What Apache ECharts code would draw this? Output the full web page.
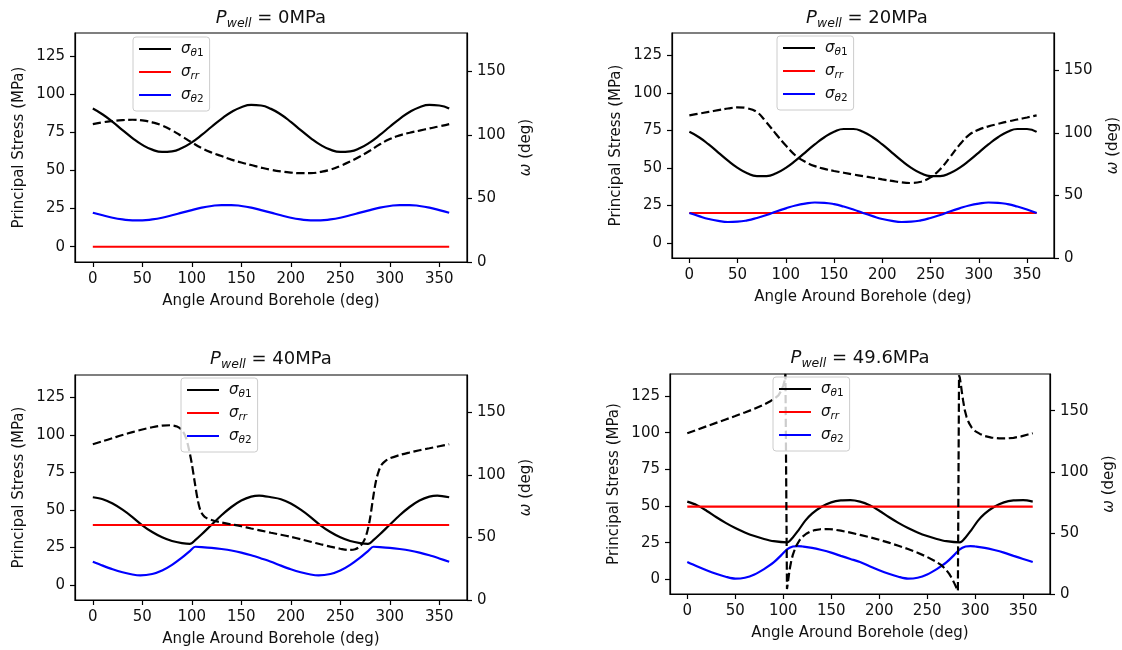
<!DOCTYPE html>
<html>
<head>
<meta charset="utf-8">
<script src="https://cdn.jsdelivr.net/npm/echarts@6/dist/echarts.min.js"></script>
<style>
html,body{margin:0;padding:0;background:#fff;}
#chart{width:1122px;height:650px;}
</style>
</head>
<body>
<div id="chart"></div>
<script>
// angle around borehole (deg), 10 deg steps for the two upper panels
var angles = [0,10,20,30,40,50,60,70,80,90,100,110,120,130,140,150,160,170,180,
              190,200,210,220,230,240,250,260,270,280,290,300,310,320,330,340,350,360];
var pressures = [0, 20, 40, 49.6];

// P_well = 0 MPa
var p1Theta1 = [90.5,86.6,81.8,76.4,71.2,66.7,63.6,62.1,62.5,64.7,68.4,73.2,78.6,83.8,88.3,91.4,92.9,92.5,90.3,
                86.6,81.8,76.4,71.2,66.7,63.6,62.1,62.5,64.7,68.4,73.2,78.6,83.8,88.3,91.4,92.9,92.5,90.5];
var p1Theta2 = [22.3,20.6,19.0,17.9,17.3,17.3,17.9,19.0,20.6,22.3,24.0,25.6,26.7,27.3,27.3,26.7,25.6,24.0,22.3,
                20.6,19.0,17.9,17.3,17.3,17.9,19.0,20.6,22.3,24.0,25.6,26.7,27.3,27.3,26.7,25.6,24.0,22.3];
var p1Omega = [108.4,109.8,110.8,111.5,111.8,111.3,109.8,107.3,103.5,98.8,94,89.5,86,83.3,80.5,78.2,76.2,74.2,72.5,
               71.2,70.3,69.8,69.8,70.8,72.6,75.5,79,83,87.5,92.5,96.6,99.5,101.6,103.3,105,106.6,108.4];

// P_well = 20 MPa
var p2Theta1 = [74.1,70.5,65.7,60.3,54.9,50.1,46.5,44.6,44.6,46.5,50.1,54.9,60.3,65.7,70.5,74.1,76,76,74.1,
                70.5,65.7,60.3,54.9,50.1,46.5,44.6,44.6,46.5,50.1,54.9,60.3,65.7,70.5,74.1,76,76,74.1];
var p2Theta2 = [20.0,17.9,16.0,14.7,14.0,14.2,15.1,16.7,18.7,21.0,23.1,25.0,26.3,27.0,26.8,25.9,24.3,22.3,20.0,
                17.9,16.0,14.7,14.0,14.2,15.1,16.7,18.7,21.0,23.1,25.0,26.3,27.0,26.8,25.9,24.3,22.3,20.0];
var p2Omega = [114.1,115.5,116.9,118.3,119.6,120.5,119.8,116.8,108.5,99,90,82,77,73.5,71.3,69.6,68.2,66.8,65.5,
               64.2,62.9,61.7,60.5,60,61,64.5,71,80.5,90.5,98.5,102.7,105.3,107.3,109.2,110.8,112.4,114.1];

// P_well = 40 MPa  [angle, value]
var p3Theta1 = [[0,58.5],[10,57.2],[20,54.3],[30,50.2],[40,45.3],[50,39.8],[60,35.3],[70,31.8],[80,29.3],[90,27.9],
                [98,27.4],[104,30.2],[110,33.8],[120,40.2],[130,46.5],[140,52],[150,56.3],[160,58.9],[168,59.6],[180,58.5],
                [190,57.2],[200,54.3],[210,50.2],[220,45.3],[230,39.8],[240,35.3],[250,31.8],[260,29.3],[270,27.9],
                [278,27.4],[284,30.2],[290,33.8],[300,40.2],[310,46.5],[320,52],[330,56.3],[340,58.9],[348,59.6],[360,58.5]];
var p3Theta2 = [[0,15.5],[10,12.9],[20,10.5],[30,8.5],[40,7],[48,6.4],[60,7.3],[70,9.6],[80,13.4],[90,18.2],[98,22.6],
                [103.5,25.5],[110,25.3],[120,24.8],[130,24],[140,23],[150,21.6],[160,19.8],[170,17.7],[180,15.5],
                [190,12.9],[200,10.5],[210,8.5],[220,7],[228,6.4],[240,7.3],[250,9.6],[260,13.4],[270,18.2],[278,22.6],
                [283.5,25.5],[290,25.3],[300,24.8],[310,24],[320,23],[330,21.6],[340,19.8],[350,17.7],[360,15.5]];
var p3Omega = [[0,124.6],[10,127],[20,129.5],[30,132],[40,134.3],[50,136.4],[60,138.2],[70,139.5],[78,139.8],[85,138.8],
               [90,136],[94,130],[97,121],[100,109],[103,94],[106,80],[109,71],[113,66.5],[120,64],[130,62],[140,60.5],
               [150,59],[160,57.2],[170,55.5],[180,53.8],[190,52.2],[200,50.5],[210,48.6],[220,46.6],[230,44.6],[240,42.7],
               [250,41],[258,40],[265,40.6],[270,43],[274,47.5],[277,54],[280,65],[283,81],[286,95],[289,103.5],[292,108.5],
               [296,111.5],[300,113.3],[310,116],[320,118],[330,119.8],[340,121.4],[350,123],[360,124.6]];

// P_well = 49.6 MPa  [angle, value]
var p4Theta1 = [[0,53],[10,50.6],[20,46.8],[30,42.5],[40,38.5],[50,35],[60,32],[70,29.5],[80,27.5],[90,26],[104,25.2],
                [110,28.6],[116,33.6],[123,40],[130,44.8],[140,49.5],[150,52.5],[160,53.8],[170,54],[180,53],
                [190,50.6],[200,46.8],[210,42.5],[220,38.5],[230,35],[240,32],[250,29.5],[260,27.5],[270,26],[284,25.2],
                [290,28.6],[296,33.6],[303,40],[310,44.8],[320,49.5],[330,52.5],[340,53.8],[350,54],[360,53]];
var p4Theta2 = [[0,11.8],[10,8.9],[20,6.2],[30,3.8],[40,1.8],[50,0.5],[60,1.1],[70,3.3],[80,7],[90,11.5],[98,16.5],
                [104,20.5],[110,22.4],[115,22.7],[120,22.4],[130,21.5],[140,20],[150,18.2],[160,16],[170,13.9],[180,11.8],
                [190,8.9],[200,6.2],[210,3.8],[220,1.8],[230,0.5],[240,1.1],[250,3.3],[260,7],[270,11.5],[278,16.5],
                [284,20.5],[290,22.4],[295,22.7],[300,22.4],[310,21.5],[320,20],[330,18.2],[340,16],[350,13.9],[360,11.8]];
var p4Omega = [[0,131.5],[10,134.3],[20,137.2],[30,140],[40,142.8],[50,145.6],[60,148.5],[70,151.5],[80,155],[86,157.5],
               [91,160],[95,162.5],[98,166.5],[100,170.5],[101.3,174],[102.3,180],[103.9,4],[104.8,9],[105.8,15],[107,21.5],
               [108.5,27.5],[110,32],[112,36.5],[114,40],[117,44],[120,46.8],[124,49.3],[128,51],[133,52.3],[139,53],
               [145,53.2],[152,52.8],[160,51.8],[170,50.2],[180,48.4],[190,46.5],[200,44.4],[210,42],[220,39.5],[230,36.8],
               [240,33.8],[250,30.3],[258,27],[264,24],[269,20.5],[273,16.5],[276,12.5],[278.5,8.5],[280.5,5],[282,2.5],
               [282.8,1],[283.2,179],[284,177],[285,172],[286.2,165],[287.5,158],[289,151],[291,145],[293.5,140],[296.5,136],
               [300,133.3],[305,131],[310,129.3],[317,128],[325,127.3],[333,127.3],[340,127.8],[348,129],[355,130.5],[360,131.5]];

var xTicks = [0,50,100,150,200,250,300,350];
var stressTicks = [0,25,50,75,100,125];
var omegaTicks = [0,50,100,150];
var legendNames = ['σθ1','σrr','σθ2'];

function zip(xs, ys) {
    return xs.map(function (x, i) { return [x, ys[i]]; });
}

var panels = [
    {theta1: zip(angles, p1Theta1), theta2: zip(angles, p1Theta2), omega: zip(angles, p1Omega), sm: 0.5, smw: 0.5},
    {theta1: zip(angles, p2Theta1), theta2: zip(angles, p2Theta2), omega: zip(angles, p2Omega), sm: 0.5, smw: 0.4},
    {theta1: p3Theta1, theta2: p3Theta2, omega: p3Omega, sm: 0.3, smw: 0.3},
    {theta1: p4Theta1, theta2: p4Theta2, omega: p4Omega, sm: 0.3, smw: false}
];

// layout of the four axes boxes (px)
var boxes = [
    {left: 75, top: 33, width: 392, height: 229},
    {left: 672, top: 33, width: 390, height: 225},
    {left: 75, top: 375, width: 392, height: 225},
    {left: 670, top: 374, width: 380, height: 220}
];
var titleTops = [6, 6, 347, 346];
var legendPos = [[133, 37], [777, 36], [181, 378], [773, 377]];

var FONT = 'DejaVu Sans';
var TXT = '#111';

var legendText = {
    'σθ1': '{it|σ}{subi|θ}{sub|1}',
    'σrr': '{it|σ}{subi|rr}',
    'σθ2': '{it|σ}{subi|θ}{sub|2}'
};

var option = {
    animation: false,
    backgroundColor: '#fff',
    title: [], legend: [], grid: [], xAxis: [], yAxis: [], series: []
};

for (var i = 0; i < 4; i++) {
    var b = boxes[i];
    var p = panels[i];
    option.grid.push({
        left: b.left, top: b.top, width: b.width, height: b.height,
        show: true, borderColor: '#000', borderWidth: 1.2, containLabel: false
    });
    option.title.push({
        text: '{i|P}{s|well}{n| = ' + pressures[i] + 'MPa}',
        left: b.left + b.width / 2, top: titleTops[i], textAlign: 'center', padding: 0,
        textStyle: {
            fontWeight: 'normal',
            rich: {
                i: {fontFamily: FONT, fontStyle: 'italic', fontWeight: 'normal', fontSize: 18, lineHeight: 24, color: TXT},
                s: {fontFamily: FONT, fontStyle: 'italic', fontWeight: 'normal', fontSize: 12.5, lineHeight: 14, verticalAlign: 'bottom', color: TXT},
                n: {fontFamily: FONT, fontWeight: 'normal', fontSize: 18, lineHeight: 24, color: TXT}
            }
        }
    });
    option.legend.push({
        data: legendNames, orient: 'vertical', left: legendPos[i][0], top: legendPos[i][1],
        padding: [4, 6, 6, 5], itemGap: 5, itemWidth: 32, itemHeight: 20,
        backgroundColor: 'rgba(255,255,255,0.8)', borderColor: '#cccccc', borderWidth: 1, borderRadius: 3,
        selectedMode: false,
        itemStyle: {opacity: 0},
        formatter: function (n) { return legendText[n]; },
        textStyle: {
            rich: {
                it: {fontFamily: FONT, fontStyle: 'italic', fontSize: 15, lineHeight: 20, color: TXT, padding: [0, 0, 0, 5]},
                subi: {fontFamily: FONT, fontStyle: 'italic', fontSize: 10.5, lineHeight: 12, verticalAlign: 'bottom', color: TXT},
                sub: {fontFamily: FONT, fontSize: 10.5, lineHeight: 12, verticalAlign: 'bottom', color: TXT}
            }
        }
    });
    option.xAxis.push({
        type: 'value', gridIndex: i, min: -18, max: 378,
        name: 'Angle Around Borehole (deg)', nameLocation: 'middle', nameGap: 32,
        nameTextStyle: {fontFamily: FONT, fontSize: 15, color: TXT},
        axisLine: {show: true, onZero: false, lineStyle: {color: '#000', width: 1.2}},
        axisTick: {show: true, length: 5, customValues: xTicks, lineStyle: {color: '#000', width: 1.2}},
        axisLabel: {customValues: xTicks, margin: 10, fontFamily: FONT, fontSize: 15, color: TXT},
        splitLine: {show: false}
    });
    option.yAxis.push({
        type: 'value', gridIndex: i, position: 'left', min: -10, max: 140,
        name: 'Principal Stress (MPa)', nameLocation: 'middle', nameGap: 48, nameRotate: 90,
        nameTextStyle: {fontFamily: FONT, fontSize: 15, color: TXT},
        axisLine: {show: true, onZero: false, lineStyle: {color: '#000', width: 1.2}},
        axisTick: {show: true, length: 5, customValues: stressTicks, lineStyle: {color: '#000', width: 1.2}},
        axisLabel: {customValues: stressTicks, margin: 10, fontFamily: FONT, fontSize: 15, color: TXT},
        splitLine: {show: false}
    });
    option.yAxis.push({
        type: 'value', gridIndex: i, position: 'right', min: 0, max: 180,
        name: '{w|ω} (deg)', nameLocation: 'middle', nameGap: 52, nameRotate: 90,
        nameTextStyle: {fontFamily: FONT, fontSize: 15, color: TXT,
            rich: {w: {fontFamily: FONT, fontStyle: 'italic', fontSize: 15, color: TXT}}},
        axisLine: {show: true, onZero: false, lineStyle: {color: '#000', width: 1.2}},
        axisTick: {show: true, length: 5, customValues: omegaTicks, lineStyle: {color: '#000', width: 1.2}},
        axisLabel: {customValues: omegaTicks, margin: 10, fontFamily: FONT, fontSize: 15, color: TXT},
        splitLine: {show: false}
    });

    var common = {type: 'line', xAxisIndex: i, symbol: 'none', emphasis: {disabled: true}};
    option.series.push(Object.assign({}, common, {
        name: 'σθ1', yAxisIndex: 2 * i, data: p.theta1, smooth: p.sm,
        lineStyle: {color: '#000000', width: 2.2}, itemStyle: {color: '#000000'}
    }));
    option.series.push(Object.assign({}, common, {
        name: 'σrr', yAxisIndex: 2 * i, data: [[0, pressures[i]], [360, pressures[i]]],
        lineStyle: {color: '#ff0000', width: 2.2}, itemStyle: {color: '#ff0000'}
    }));
    option.series.push(Object.assign({}, common, {
        name: 'σθ2', yAxisIndex: 2 * i, data: p.theta2, smooth: p.sm,
        lineStyle: {color: '#0000ff', width: 2.2}, itemStyle: {color: '#0000ff'}
    }));
    option.series.push(Object.assign({}, common, {
        name: 'ω', yAxisIndex: 2 * i + 1, data: p.omega, smooth: p.smw,
        lineStyle: {color: '#000000', width: 2.2, type: [8.3, 3.6]}, itemStyle: {color: '#000000'}
    }));
}

var chart = echarts.init(document.getElementById('chart'), null, {renderer: 'canvas'});
chart.setOption(option);
</script>
</body>
</html>
